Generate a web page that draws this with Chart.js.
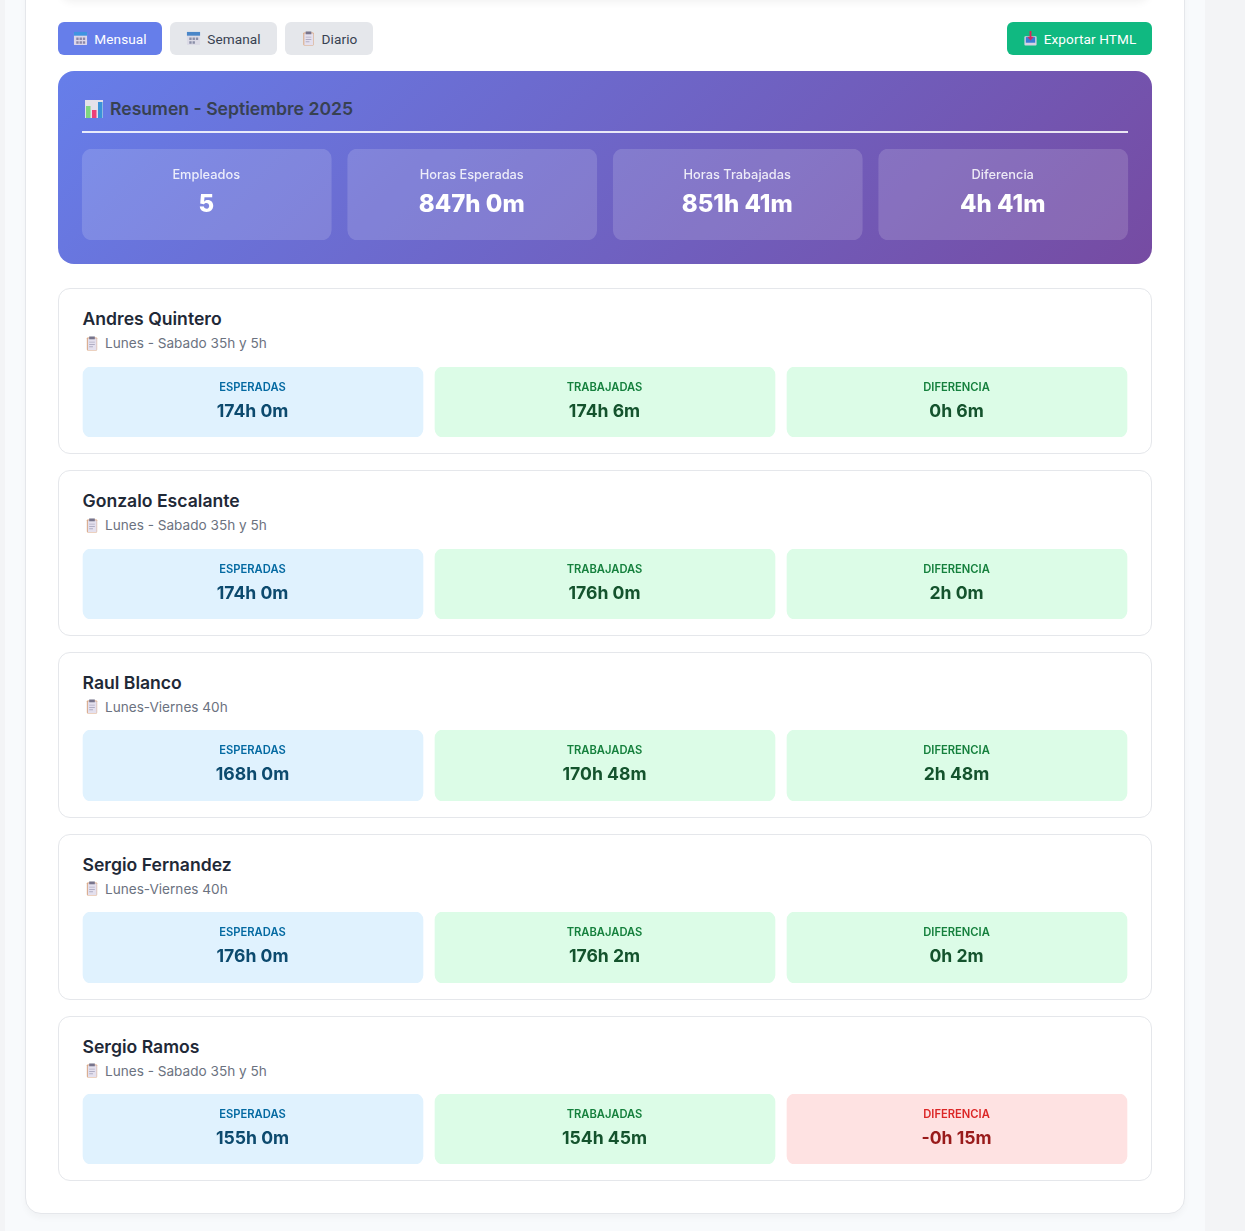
<!DOCTYPE html>
<html lang="es">
<head>
<meta charset="utf-8">
<title>Resumen - Septiembre 2025</title>
<script src="https://cdn.jsdelivr.net/npm/chart.js@4"></script>
<style>
    * { box-sizing: border-box; }
    html, body { margin: 0; height: 1231px; overflow: hidden; background: #f3f4f6; font-family: Inter, sans-serif; }
    .page { position: absolute; left: 5px; top: 0; width: 1200px; height: 1231px; background: #f8fafc; }
    .card { position: absolute; left: 25px; top: -40px; width: 1160px; height: 1254px; background: #fff; border: 1px solid #e5e7eb; border-radius: 16px; box-shadow: 0 4px 6px rgba(0,0,0,.03); }
    .topshadow { position: absolute; left: 60px; top: -30px; width: 1090px; height: 30px; border-radius: 12px; box-shadow: 0 2px 8px rgba(0,0,0,.06); }

    .btn { position: absolute; top: 22px; height: 33px; border-radius: 6px; background: #e5e7eb; color: #374151; font-family: Roboto, sans-serif; font-size: 13.6px; font-weight: 400; letter-spacing: .1px; display: flex; align-items: center; justify-content: center; gap: 6px; }
    .btn.active { background: #667eea; color: #fff; }
    .btn.export { background: #10b981; color: #fff; }
    .btn svg { width: 15px; height: 15px; flex: none; }

    .summary { position: absolute; left: 58px; top: 71px; width: 1094px; height: 193px; border-radius: 16px; background: linear-gradient(135deg, #667eea 0%, #764ba2 100%); }
    .summary h2 { position: absolute; left: 24px; top: 26px; width: 1046px; height: 36px; margin: 0; padding-left: 3px; border-bottom: 2px solid rgba(255,255,255,.85); color: #374151; font-size: 17.6px; font-weight: 600; line-height: 24px; display: flex; gap: 7px; }
    .summary h2 svg { width: 18px; height: 18px; margin-top: 3px; }
    .summary .tiles { position: absolute; left: 24px; top: 78px; width: 1046px; height: 91px; }
    .tiles canvas { position: absolute; top: 0; }
    .summary canvas { left: -8px; }
    .labels { position: absolute; inset: 0; display: grid; text-align: center; }
    .summary .labels { grid-template-columns: repeat(4, 1fr); column-gap: 16px; color: #fff; left: -0.5px; right: 0.5px; }
    .summary .lbl { margin-top: 17px; font-size: 12.8px; line-height: 17px; font-weight: 500; opacity: .85; }
    .summary .val { margin-top: 5px; font-size: 24px; line-height: 32px; font-weight: 800; }

    .emp { position: absolute; left: 58px; width: 1094px; height: 165.9px; background: #fff; border: 1px solid #e5e7eb; border-radius: 12px; }
    .emp .name { position: absolute; left: 23.5px; top: 18px; font-size: 17.6px; line-height: 24px; font-weight: 600; color: #1f2937; }
    .emp .sched { position: absolute; left: 26px; top: 45px; font-size: 13.6px; line-height: 18px; color: #6b7280; display: flex; gap: 6px; align-items: center; }
    .emp .sched svg { width: 14px; height: 15px; }
    .emp .tiles { position: absolute; left: 24px; top: 77.5px; width: 1044px; height: 70px; }
    .emp canvas { left: -6px; }
    .emp .labels { grid-template-columns: repeat(3, 1fr); column-gap: 12px; left: -0.5px; right: 0.5px; }
    .emp .lbl { margin-top: 13px; font-size: 11.2px; line-height: 14px; font-weight: 600; text-transform: uppercase; }
    .emp .val { margin-top: 5px; font-size: 17.6px; line-height: 24px; font-weight: 700; }
</style>
</head>
<body>
<div class="page"></div>
<div class="card"></div>
<div class="topshadow"></div>
<div id="root"></div>

<script>
const employees = ["Andres Quintero", "Gonzalo Escalante", "Raul Blanco", "Sergio Fernandez", "Sergio Ramos"];
const schedules = ["Lunes - Sabado 35h y 5h", "Lunes - Sabado 35h y 5h", "Lunes-Viernes 40h", "Lunes-Viernes 40h", "Lunes - Sabado 35h y 5h"];
const expected = ["174h 0m", "174h 0m", "168h 0m", "176h 0m", "155h 0m"];
const worked = ["174h 6m", "176h 0m", "170h 48m", "176h 2m", "154h 45m"];
const difference = ["0h 6m", "2h 0m", "2h 48m", "0h 2m", "-0h 15m"];
const employeeMetrics = ["Esperadas", "Trabajadas", "Diferencia"];

const summaryMetrics = ["Empleados", "Horas Esperadas", "Horas Trabajadas", "Diferencia"];
const summaryValues = ["5", "847h 0m", "851h 41m", "4h 41m"];
const tabs = ["Mensual", "Semanal", "Diario"];

// small icons, there is no emoji font on the render machine
const ICONS = {
    month: '<svg viewBox="0 0 16 16"><rect x="1" y="1" width="14" height="14" rx="1" fill="#dcd6ea"/><rect x="1" y="1" width="14" height="4" fill="#3f93e0"/><path d="M3.500 7h2.500v2.500H3.500zM7 7h2.500v2.500H7zM10.500 7H13v2.500h-2.500zM3.500 11h2.500v2.500H3.500zM7 11h2.500v2.500H7zM10.500 11H13v2.500h-2.500z" fill="#8a86a8"/></svg>',
    week: '<svg viewBox="0 0 16 16"><rect x="1" y="1" width="14" height="14" rx="1" fill="#dcdbe6"/><rect x="1" y="1" width="14" height="4" fill="#4a86c8"/><path d="M3.500 7h2.500v2.500H3.500zM7 7h2.500v2.500H7zM10.500 7H13v2.500h-2.500zM3.500 11h2.500v2.500H3.500zM7 11h2.500v2.500H7z" fill="#8a8fa8"/></svg>',
    clip: '<svg viewBox="0 0 14 16"><rect x="1.500" y="1.500" width="11" height="14" rx="1" fill="#d9a27a"/><rect x="2.500" y="2.500" width="9.500" height="12.500" fill="#e4e0ee"/><rect x="4" y="0.500" width="6" height="3" fill="#77748c"/><path d="M4 6h6v1H4zM4 8.500h6v1H4zM4 11h4v1H4z" fill="#b0adc4"/></svg>',
    down: '<svg viewBox="0 0 16 16"><rect x="1.500" y="5.500" width="13" height="10" rx="1" fill="#d5d2e2"/><rect x="3" y="6.500" width="10" height="6" fill="#3a7bd5"/><path d="M7 0h2v6h2.500L8 10 4.500 6H7z" fill="#d6275c"/></svg>',
    chart: '<svg viewBox="0 0 18 18"><rect width="18" height="18" fill="#e3e1ea"/><rect x="1" y="6" width="4.500" height="12" fill="#7fd67f"/><rect x="7" y="10" width="4.500" height="8" fill="#ee3f78"/><rect x="13" y="2" width="4.500" height="16" fill="#3a93d8"/></svg>'
};

const TAB_BOXES = [[58, 104], [170, 107], [285, 88]];
const TAB_ICONS = [ICONS.month, ICONS.week, ICONS.clip];

const EMP_COLORS = {
    blue: { bg: "#e0f2fe", lbl: "#0369a1", val: "#0c4a6e" },
    green: { bg: "#dcfce7", lbl: "#15803d", val: "#14532d" },
    red: { bg: "#fee2e2", lbl: "#dc2626", val: "#991b1b" }
};

// every tile is a bar that fills its row, same height for all of them
function drawTiles(canvas, labels, colors, radius, barWidth) {
    new Chart(canvas, {
        type: "bar",
        data: {
            labels: labels,
            datasets: [{
                data: labels.map(() => 1),
                backgroundColor: colors,
                borderRadius: radius,
                borderSkipped: false,
                barThickness: barWidth
            }]
        },
        options: {
            responsive: false,
            animation: false,
            layout: { padding: 0 },
            plugins: { legend: { display: false }, tooltip: { enabled: false } },
            scales: {
                x: { display: false },
                y: { display: false, min: 0, max: 1 }
            }
        }
    });
}

const root = document.getElementById("root");
let html = "";

tabs.forEach((tab, i) => {
    html += `<div class="btn ${i === 0 ? "active" : ""}" style="left:${TAB_BOXES[i][0]}px;width:${TAB_BOXES[i][1]}px">${TAB_ICONS[i]}<span>${tab}</span></div>`;
});
html += `<div class="btn export" style="left:1007px;width:145px">${ICONS.down}<span>Exportar HTML</span></div>`;

html += `<div class="summary">
    <h2>${ICONS.chart}<span>Resumen - Septiembre 2025</span></h2>
    <div class="tiles">
        <canvas id="summary-tiles" width="1062" height="91"></canvas>
        <div class="labels">${summaryMetrics.map((m, i) => `<div><div class="lbl">${m}</div><div class="val">${summaryValues[i]}</div></div>`).join("")}</div>
    </div>
</div>`;

employees.forEach((name, i) => {
    const negative = difference[i].startsWith("-");
    const tones = [EMP_COLORS.blue, EMP_COLORS.green, negative ? EMP_COLORS.red : EMP_COLORS.green];
    const values = [expected[i], worked[i], difference[i]];
    const top = 288.3 + i * 181.8;
    // the rows sit on fractional pixels, so some tiles snap one pixel taller
    const tileTop = top + 78.5;
    const tileHeight = Math.round(tileTop + 70.4) - Math.round(tileTop);
    html += `<div class="emp" style="top:${top}px">
        <div class="name">${name}</div>
        <div class="sched">${ICONS.clip}<span>${schedules[i]}</span></div>
        <div class="tiles">
            <canvas id="emp-tiles-${i}" width="1056" height="${tileHeight}"></canvas>
            <div class="labels">${employeeMetrics.map((m, j) => `<div><div class="lbl" style="color:${tones[j].lbl}">${m}</div><div class="val" style="color:${tones[j].val}">${values[j]}</div></div>`).join("")}</div>
        </div>
    </div>`;
});
root.innerHTML = html;

drawTiles(document.getElementById("summary-tiles"), summaryMetrics, "rgba(255,255,255,0.15)", 10, 249);

employees.forEach((name, i) => {
    const negative = difference[i].startsWith("-");
    const colors = [EMP_COLORS.blue.bg, EMP_COLORS.green.bg, negative ? EMP_COLORS.red.bg : EMP_COLORS.green.bg];
    drawTiles(document.getElementById("emp-tiles-" + i), employeeMetrics, colors, 8, 340);
});
</script>
</body>
</html>
